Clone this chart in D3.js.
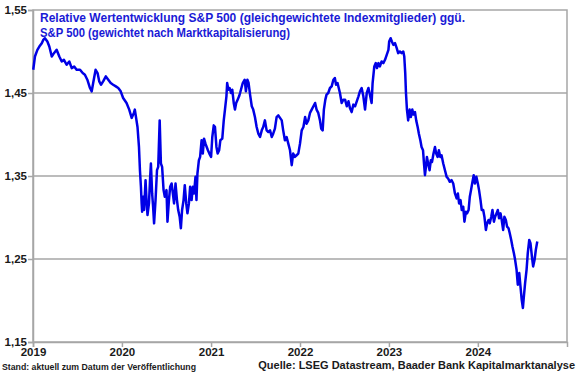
<!DOCTYPE html>
<html>
<head>
<meta charset="utf-8">
<script src="https://cdn.jsdelivr.net/npm/d3@7"></script>
<style>
  body { margin: 0; background: #fff; }
  text { font-family: "Liberation Sans", Arial, sans-serif; }
</style>
</head>
<body>
<div id="chart"></div>
<script>
// Relative Wertentwicklung S&P 500 equal weight vs. cap weight
var dates = [
  "2019-01-02","2019-01-09","2019-01-19","2019-01-27","2019-02-06","2019-02-12","2019-02-19","2019-03-01","2019-03-09","2019-03-19",
  "2019-03-28","2019-04-08","2019-04-19","2019-04-29","2019-05-08","2019-05-19","2019-05-30","2019-06-09","2019-06-19","2019-06-29",
  "2019-07-13","2019-07-24","2019-08-02","2019-08-12","2019-08-23","2019-08-30","2019-09-05","2019-09-15","2019-09-23","2019-09-30",
  "2019-10-07","2019-10-16","2019-10-27","2019-11-06","2019-11-16","2019-11-26","2019-12-07","2019-12-17","2019-12-27",
  "2020-01-06","2020-01-20","2020-01-31","2020-02-10","2020-02-19","2020-02-23","2020-03-05","2020-03-11","2020-03-15","2020-03-19",
  "2020-03-22","2020-03-24","2020-03-28","2020-04-01","2020-04-07","2020-04-11","2020-04-15","2020-04-21","2020-04-26","2020-04-29",
  "2020-05-04","2020-05-08","2020-05-12","2020-05-18","2020-05-24","2020-05-29","2020-06-04","2020-06-09","2020-06-14","2020-06-20",
  "2020-06-25","2020-07-02","2020-07-06","2020-07-12","2020-07-17","2020-07-23","2020-07-28","2020-08-02","2020-08-08","2020-08-14",
  "2020-08-19","2020-08-25","2020-08-30","2020-09-04","2020-09-10","2020-09-15","2020-09-21","2020-09-26","2020-10-02","2020-10-07",
  "2020-10-13","2020-10-18","2020-10-23","2020-10-29","2020-11-02","2020-11-06","2020-11-12","2020-11-17","2020-11-23","2020-11-28",
  "2020-12-03","2020-12-09","2020-12-14","2020-12-19","2020-12-25",
  "2021-01-01","2021-01-06","2021-01-12","2021-01-17","2021-01-23","2021-01-28","2021-02-03","2021-02-08","2021-02-16","2021-02-22",
  "2021-02-27","2021-03-05","2021-03-08","2021-03-13","2021-03-18","2021-03-24","2021-03-29","2021-04-04","2021-04-09","2021-04-14",
  "2021-04-20","2021-04-26","2021-04-30","2021-05-11","2021-05-19","2021-05-24","2021-05-30","2021-06-04","2021-06-10","2021-06-17",
  "2021-06-23","2021-06-30","2021-07-07","2021-07-14","2021-07-21","2021-07-28","2021-08-03","2021-08-10","2021-08-17","2021-08-24",
  "2021-08-31","2021-09-07","2021-09-13","2021-09-20","2021-09-27","2021-10-04","2021-10-11","2021-10-18","2021-10-24","2021-10-31",
  "2021-11-07","2021-11-14","2021-11-21","2021-11-28","2021-12-04","2021-12-11","2021-12-18","2021-12-25",
  "2022-01-01","2022-01-08","2022-01-15","2022-01-22","2022-01-28","2022-02-04","2022-02-11","2022-02-18","2022-02-25","2022-03-04",
  "2022-03-10","2022-03-17","2022-03-24","2022-03-29","2022-04-04","2022-04-09","2022-04-15","2022-04-20","2022-04-27","2022-05-04",
  "2022-05-11","2022-05-18","2022-05-24","2022-05-29","2022-06-04","2022-06-09","2022-06-14","2022-06-21","2022-06-28","2022-07-05",
  "2022-07-12","2022-07-19","2022-07-25","2022-08-01","2022-08-08","2022-08-15","2022-08-22","2022-08-29","2022-09-04","2022-09-11",
  "2022-09-18","2022-09-25","2022-10-02","2022-10-09","2022-10-15","2022-10-22","2022-10-26","2022-11-02","2022-11-08","2022-11-13",
  "2022-11-19","2022-11-25","2022-12-02","2022-12-09","2022-12-16","2022-12-23","2022-12-30",
  "2023-01-02","2023-01-08","2023-01-13","2023-01-19","2023-01-26","2023-02-02","2023-02-08","2023-02-15","2023-02-22","2023-03-01",
  "2023-03-05","2023-03-09","2023-03-12","2023-03-16","2023-03-21","2023-03-27","2023-04-01","2023-04-07","2023-04-12","2023-04-18",
  "2023-04-23","2023-04-29","2023-05-04","2023-05-10","2023-05-15","2023-05-21","2023-05-25","2023-05-29","2023-06-02","2023-06-06",
  "2023-06-11","2023-06-17","2023-06-22","2023-06-27","2023-07-03","2023-07-09","2023-07-14","2023-07-20","2023-07-25","2023-07-31",
  "2023-08-05","2023-08-12","2023-08-19","2023-08-26","2023-09-01","2023-09-08","2023-09-15","2023-09-22","2023-09-29","2023-10-06",
  "2023-10-11","2023-10-16","2023-10-22","2023-10-27","2023-11-02","2023-11-07","2023-11-13","2023-11-18","2023-11-24","2023-11-29",
  "2023-12-04","2023-12-10","2023-12-15","2023-12-20","2023-12-26",
  "2024-01-01","2024-01-06","2024-01-12","2024-01-17","2024-01-23","2024-01-28","2024-02-03","2024-02-08","2024-02-14","2024-02-19",
  "2024-02-25","2024-03-01","2024-03-07","2024-03-12","2024-03-18","2024-03-23","2024-03-28","2024-04-03","2024-04-08","2024-04-14",
  "2024-04-19","2024-04-25","2024-04-30","2024-05-06","2024-05-11","2024-05-17","2024-05-22","2024-05-28","2024-06-02","2024-06-08",
  "2024-06-13","2024-06-19","2024-06-24","2024-06-29","2024-07-04","2024-07-08","2024-07-13","2024-07-19","2024-07-24","2024-07-30",
  "2024-08-04","2024-08-10","2024-08-15","2024-08-21","2024-08-26","2024-09-01"
];
var ratio = [
  1.478,1.494,1.502,1.506,1.510,1.514,1.516,1.512,1.506,1.494,
  1.498,1.502,1.494,1.488,1.490,1.484,1.488,1.480,1.482,1.478,
  1.478,1.474,1.472,1.466,1.456,1.452,1.462,1.478,1.474,1.464,
  1.460,1.464,1.470,1.466,1.462,1.460,1.458,1.456,1.452,
  1.444,1.438,1.430,1.420,1.426,1.430,1.409,1.385,1.357,1.337,
  1.317,1.307,1.325,1.309,1.345,1.321,1.303,1.317,1.349,1.365,
  1.329,1.313,1.293,1.321,1.357,1.361,1.417,1.365,1.361,1.333,
  1.325,1.333,1.295,1.321,1.337,1.341,1.329,1.317,1.341,1.321,
  1.309,1.301,1.287,1.309,1.321,1.339,1.317,1.305,1.317,1.337,
  1.321,1.337,1.329,1.349,1.321,1.353,1.369,1.373,1.393,1.377,
  1.395,1.389,1.385,1.381,1.377,
  1.373,1.397,1.411,1.409,1.385,1.377,1.381,1.393,1.395,1.417,
  1.430,1.446,1.462,1.454,1.456,1.450,1.454,1.438,1.430,1.438,
  1.442,1.446,1.450,1.462,1.466,1.452,1.466,1.462,1.448,1.434,
  1.430,1.421,1.409,1.401,1.397,1.405,1.409,1.417,1.405,1.403,
  1.405,1.397,1.401,1.407,1.421,1.423,1.420,1.417,1.405,1.393,
  1.397,1.389,1.381,1.363,1.377,1.373,1.375,1.377,
  1.389,1.405,1.409,1.421,1.413,1.417,1.426,1.430,1.434,1.438,
  1.430,1.426,1.417,1.407,1.405,1.430,1.442,1.448,1.450,1.456,
  1.458,1.466,1.468,1.460,1.462,1.456,1.450,1.438,1.442,1.442,
  1.434,1.440,1.432,1.427,1.436,1.434,1.440,1.446,1.452,1.456,
  1.446,1.430,1.450,1.456,1.448,1.438,1.462,1.482,1.486,1.480,
  1.486,1.482,1.488,1.486,1.490,1.496,1.502,
  1.512,1.516,1.512,1.508,1.510,1.504,1.498,1.500,1.498,1.500,
  1.494,1.474,1.450,1.430,1.417,1.430,1.421,1.430,1.424,1.427,
  1.417,1.409,1.401,1.393,1.385,1.381,1.365,1.351,1.361,1.373,
  1.365,1.357,1.369,1.367,1.377,1.385,1.377,1.373,1.381,1.373,
  1.375,1.365,1.357,1.349,1.347,1.343,1.345,1.341,1.329,1.323,
  1.329,1.317,1.321,1.309,1.313,1.295,1.307,1.305,1.309,1.325,
  1.333,1.343,1.351,1.341,1.349,
  1.341,1.333,1.321,1.309,1.309,1.301,1.285,1.293,1.297,1.293,
  1.301,1.309,1.295,1.301,1.305,1.309,1.299,1.305,1.297,1.285,
  1.301,1.297,1.289,1.287,1.281,1.273,1.265,1.257,1.249,1.237,
  1.219,1.233,1.217,1.201,1.191,1.205,1.221,1.237,1.257,1.273,
  1.269,1.253,1.241,1.249,1.261,1.271
];
var yTicks = [1.15, 1.25, 1.35, 1.45, 1.55];
var yearTicks = [2019, 2020, 2021, 2022, 2023, 2024];
var titleLines = [
  "Relative Wertentwicklung S&P 500 (gleichgewichtete Indexmitglieder) ggü.",
  "S&P 500 (gewichtet nach Marktkapitalisierung)"
];
var noteLeft = "Stand: aktuell zum Datum der Veröffentlichung";
var noteRight = "Quelle: LSEG Datastream, Baader Bank Kapitalmarktanalyse";

var width = 580, height = 375;
var margin = {left: 33, right: 13, top: 10, bottom: 33};
var plotW = width - margin.left - margin.right;
var plotH = height - margin.top - margin.bottom;

var parseDate = d3.timeParse("%Y-%m-%d");
var data = dates.map(function (d, i) {
  return {date: parseDate(d), value: ratio[i]};
});

var de = d3.formatLocale({decimal: ",", thousands: ".", grouping: [3], currency: ["", " €"]});
var fmt = de.format(".2f");

var svg = d3.select("#chart").append("svg")
  .attr("width", width)
  .attr("height", height);

var g = svg.append("g")
  .attr("transform", "translate(" + margin.left + "," + margin.top + ")");

var xScale = d3.scaleTime()
  .domain([new Date(2019, 0, 1), new Date(2025, 0, 1)])
  .range([0, plotW]);
var yScale = d3.scaleLinear()
  .domain([1.15, 1.55])
  .range([plotH, 0]);

// grid lines
g.append("g")
  .selectAll("line")
  .data(yTicks.slice(1, -1))
  .enter()
  .append("line")
  .attr("x1", 0)
  .attr("x2", plotW)
  .attr("y1", d => yScale(d))
  .attr("y2", d => yScale(d))
  .style("stroke", "#a6a6a6")
  .style("stroke-width", 1.5);

// frame
g.append("rect")
  .attr("x", 0).attr("y", 0)
  .attr("width", plotW).attr("height", plotH)
  .style("fill", "none")
  .style("stroke", "#a6a6a6")
  .style("stroke-width", 1.5);

// axes
var yAxis = g.append("g")
  .call(d3.axisLeft(yScale).tickValues(yTicks).tickFormat(fmt).tickSize(5).tickPadding(4));
var xAxis = g.append("g")
  .attr("transform", "translate(0," + plotH + ")")
  .call(d3.axisBottom(xScale)
    .tickValues(yearTicks.map(y => new Date(y, 0, 1)))
    .tickFormat(d3.timeFormat("%Y"))
    .tickSize(5).tickPadding(1));

[yAxis, xAxis].forEach(function (ax) {
  ax.select(".domain").style("stroke", "#a6a6a6").style("stroke-width", 1.5);
  ax.selectAll(".tick line").style("stroke", "#a6a6a6").style("stroke-width", 1.5);
  ax.selectAll(".tick text")
    .style("font-family", "'Liberation Sans', Arial, sans-serif")
    .style("font-size", "11.5px")
    .style("font-weight", "bold")
    .style("fill", "#1a1a1a");
});
yAxis.selectAll(".tick text").attr("x", -6);

// line
var line = d3.line()
  .x(d => xScale(d.date))
  .y(d => yScale(d.value));

g.append("path")
  .datum(data)
  .attr("d", line)
  .style("fill", "none")
  .style("stroke", "#0000e6")
  .style("stroke-width", 2.5)
  .style("stroke-linejoin", "round");

// title
svg.append("g")
  .selectAll("text")
  .data(titleLines)
  .enter()
  .append("text")
  .attr("x", 40)
  .attr("y", (d, i) => 22 + i * 15)
  .attr("textLength", (d, i) => i == 0 ? 425 : 250)
  .attr("lengthAdjust", "spacingAndGlyphs")
  .style("font-size", "12.5px")
  .style("font-weight", "bold")
  .style("fill", "#1a1ad6")
  .text(d => d);

svg.append("text")
  .attr("x", 2)
  .attr("y", 370)
  .attr("textLength", 194)
  .attr("lengthAdjust", "spacingAndGlyphs")
  .style("font-size", "9.5px")
  .style("font-weight", "bold")
  .style("fill", "#1a1a1a")
  .text(noteLeft);

svg.append("text")
  .attr("x", 575)
  .attr("y", 369)
  .attr("text-anchor", "end")
  .style("font-size", "11px")
  .style("font-weight", "bold")
  .style("fill", "#1a1a1a")
  .text(noteRight);
</script>
</body>
</html>
